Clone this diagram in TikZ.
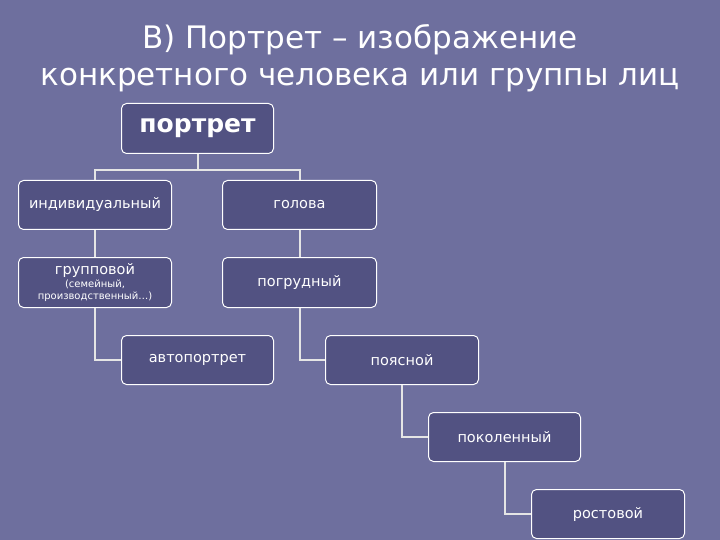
\documentclass[tikz,border=0pt]{standalone}
\usepackage{fontspec}
\setmainfont{DejaVu Sans}
\begin{document}
\begin{tikzpicture}[x=1pt,y=-1pt,
  bx/.style={draw=white,line width=1pt,fill=boxc,rounded corners=5pt,text=white,align=center,anchor=north west,inner sep=0pt},
  ln/.style={draw=white!90!black,line width=2pt}]
\definecolor{bg}{HTML}{6E6F9E}
\definecolor{boxc}{HTML}{525282}
\fill[bg] (0,0) rectangle (720,540);
\useasboundingbox (0,0) rectangle (720,540);
\node[text=white,font=\fontsize{31}{37}\selectfont,align=center] (title) at (360,58) {В) Портрет – изображение\\конкретного человека или группы лиц};
\newcommand\bxn[6]{\node[bx,minimum width=#4pt,minimum height=#5pt] (#1) at (#2,#3) {#6};}
\bxn{p}{121}{103}{152}{50}{\fontsize{25}{27}\selectfont\bfseries портрет}
\bxn{ind}{18}{180}{153}{49}{\fontsize{14.5}{16}\selectfont индивидуальный}
\bxn{gol}{222}{180}{154}{49}{\fontsize{14.5}{16}\selectfont голова}
\bxn{grp}{18}{257}{153}{50}{\fontsize{14.5}{15}\selectfont групповой\\[1pt]\fontsize{10}{11}\selectfont(семейный,\\\fontsize{10}{11}\selectfont производственный…)}
\bxn{pog}{222}{257}{154}{50}{\fontsize{14.5}{16}\selectfont погрудный}
\bxn{avt}{121}{335}{152}{49}{\fontsize{14.5}{16}\selectfont автопортрет}
\bxn{poy}{325}{335}{153}{49}{\fontsize{14.5}{16}\selectfont поясной}
\bxn{pok}{428}{412}{152}{49}{\fontsize{14.5}{16}\selectfont поколенный}
\bxn{ros}{531}{489}{153}{49}{\fontsize{14.5}{16}\selectfont ростовой}
\coordinate (j) at (p.south|-0,170);
\draw[ln] (p.south) -- (j);
\draw[ln] (ind.north) |- (j) -| (gol.north);
\draw[ln] (ind.south) -- (grp.north);
\draw[ln] (gol.south) -- (pog.north);
\draw[ln] (grp.south) |- (avt.west);
\draw[ln] (pog.south) |- (poy.west);
\draw[ln] (poy.south) |- (pok.west);
\draw[ln] (pok.south) |- (ros.west);
\end{tikzpicture}
\end{document}
